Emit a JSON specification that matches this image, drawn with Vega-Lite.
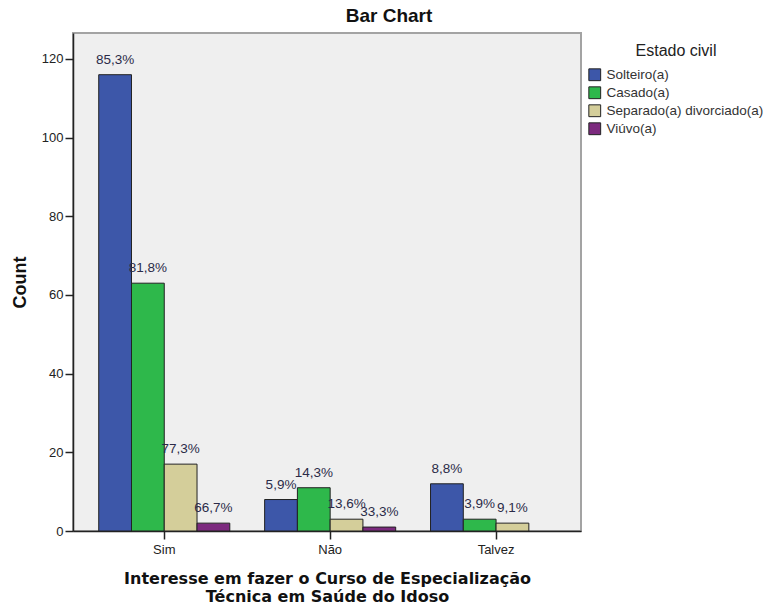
{
  "$schema": "https://vega.github.io/schema/vega-lite/v6.json",
  "autosize": "none",
  "width": 508,
  "height": 498,
  "padding": {"left": 73, "top": 33, "right": 188, "bottom": 76},
  "background": "white",
  "title": {
    "text": "Bar Chart",
    "anchor": "middle",
    "frame": "group",
    "dx": 62,
    "offset": 7,
    "font": "Liberation Sans",
    "fontSize": 19,
    "fontWeight": "bold",
    "color": "#111111"
  },
  "data": {
    "values": [
      {"interesse": "Sim", "estado": "Solteiro(a)", "count": 116, "pct": "85,3%"},
      {"interesse": "Sim", "estado": "Casado(a)", "count": 63, "pct": "81,8%"},
      {"interesse": "Sim", "estado": "Separado(a) divorciado(a)", "count": 17, "pct": "77,3%"},
      {"interesse": "Sim", "estado": "Viúvo(a)", "count": 2, "pct": "66,7%"},
      {"interesse": "Não", "estado": "Solteiro(a)", "count": 8, "pct": "5,9%"},
      {"interesse": "Não", "estado": "Casado(a)", "count": 11, "pct": "14,3%"},
      {"interesse": "Não", "estado": "Separado(a) divorciado(a)", "count": 3, "pct": "13,6%"},
      {"interesse": "Não", "estado": "Viúvo(a)", "count": 1, "pct": "33,3%"},
      {"interesse": "Talvez", "estado": "Solteiro(a)", "count": 12, "pct": "8,8%"},
      {"interesse": "Talvez", "estado": "Casado(a)", "count": 3, "pct": "3,9%"},
      {"interesse": "Talvez", "estado": "Separado(a) divorciado(a)", "count": 2, "pct": "9,1%"}
    ]
  },
  "encoding": {
    "x": {
      "field": "interesse",
      "type": "nominal",
      "sort": ["Sim", "Não", "Talvez"],
      "scale": {"paddingInner": 0.21, "paddingOuter": 0.136, "align": 0.57},
      "axis": {
        "title": ["Interesse em fazer o Curso de Especialização", "Técnica em Saúde do Idoso"],
        "labelAngle": 0,
        "labelFont": "Liberation Sans",
        "labelFontSize": 13,
        "labelColor": "#222222",
        "labelPadding": 4,
        "tickSize": 8,
        "tickColor": "#222222",
        "tickWidth": 1.5,
        "domainColor": "#222222",
        "domainWidth": 1.5,
        "titleFont": "DejaVu Sans",
        "titleFontSize": 16,
        "titleFontWeight": "bold",
        "titleColor": "#111111",
        "titlePadding": 14,
        "titleLineHeight": 18
      }
    },
    "xOffset": {
      "field": "estado",
      "type": "nominal",
      "scale": {"domain": ["Solteiro(a)", "Casado(a)", "Separado(a) divorciado(a)", "Viúvo(a)"], "paddingInner": 0}
    },
    "y": {
      "field": "count",
      "type": "quantitative",
      "scale": {"domain": [0, 126.6], "nice": false},
      "axis": {
        "title": "Count",
        "values": [0, 20, 40, 60, 80, 100, 120],
        "grid": false,
        "labelFont": "Liberation Sans",
        "labelFontSize": 13,
        "labelColor": "#222222",
        "labelPadding": 2,
        "tickSize": 8,
        "tickColor": "#222222",
        "tickWidth": 1.5,
        "domainColor": "#222222",
        "domainWidth": 1.5,
        "titleFont": "Liberation Sans",
        "titleFontSize": 18,
        "titleFontWeight": "bold",
        "titleColor": "#111111",
        "titlePadding": 12
      }
    }
  },
  "layer": [
    {
      "mark": {"type": "bar", "stroke": "#222222", "strokeWidth": 1},
      "encoding": {
        "color": {
          "field": "estado",
          "type": "nominal",
          "scale": {
            "domain": ["Solteiro(a)", "Casado(a)", "Separado(a) divorciado(a)", "Viúvo(a)"],
            "range": ["#3d57a9", "#2eb84b", "#d4ce9a", "#7c2a7e"]
          },
          "legend": {
            "title": "Estado civil",
            "orient": "right",
            "offset": -3,
            "padding": 10,
            "titleFont": "Liberation Sans",
            "titleFontSize": 16,
            "titleFontWeight": "normal",
            "titleColor": "#222222",
            "titleAnchor": "middle",
            "titleAlign": "center",
            "titlePadding": 9,
            "labelFont": "Liberation Sans",
            "labelFontSize": 13.5,
            "labelColor": "#333333",
            "labelOffset": 5,
            "symbolType": "square",
            "symbolSize": 140,
            "symbolStrokeColor": "#222222",
            "symbolStrokeWidth": 1,
            "rowPadding": 1,
            "labelLimit": 300
          }
        }
      }
    },
    {
      "mark": {
        "type": "text",
        "dy": -11,
        "baseline": "alphabetic",
        "align": "center",
        "font": "Liberation Sans",
        "fontSize": 13.5,
        "color": "#2b2b48"
      },
      "encoding": {
        "text": {"field": "pct", "type": "nominal"}
      }
    }
  ],
  "config": {
    "view": {"fill": "#efefef", "stroke": "#a3a3a3", "strokeWidth": 2}
  }
}
